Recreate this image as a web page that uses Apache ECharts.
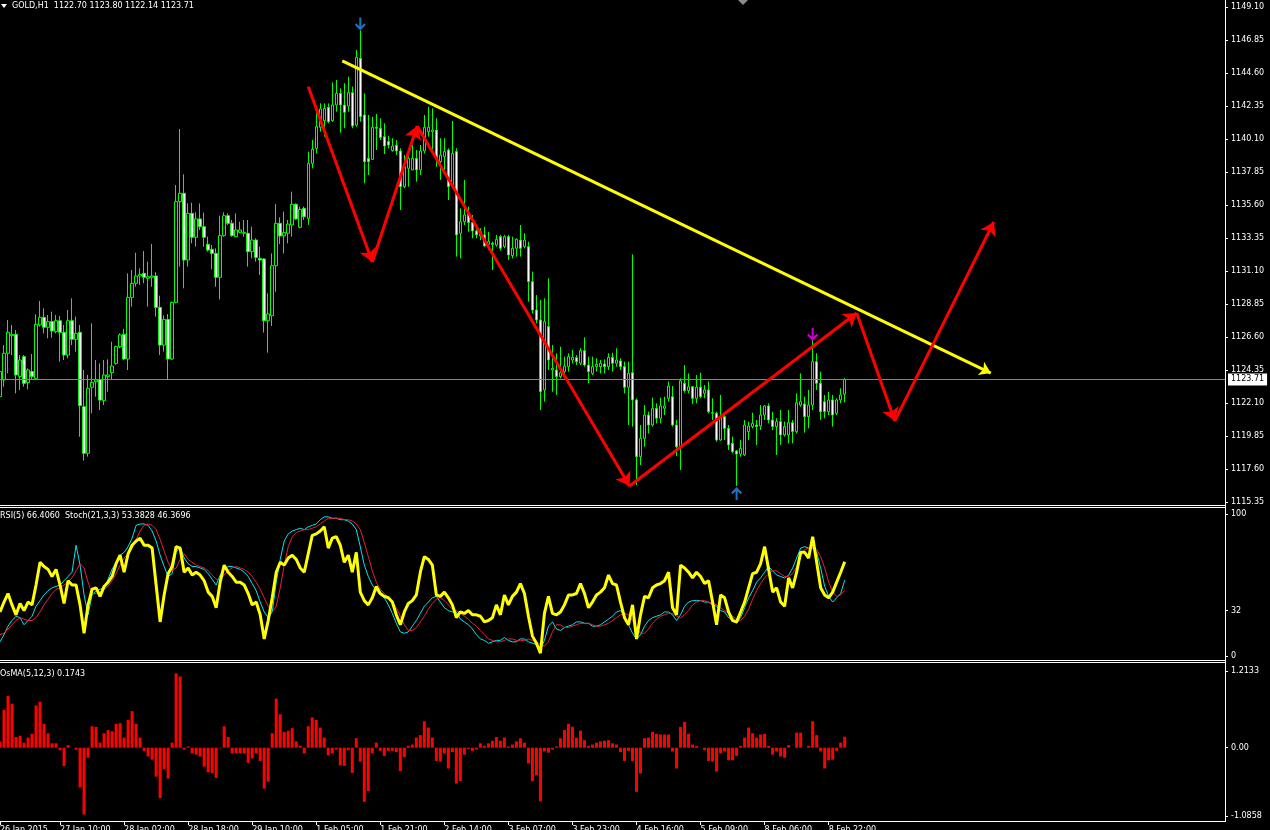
<!DOCTYPE html>
<html><head><meta charset="utf-8">
<script src="https://cdn.jsdelivr.net/npm/echarts@6/dist/echarts.min.js"></script>
<style>html,body{margin:0;padding:0;background:#000;}#c{width:1270px;height:830px;}</style>
</head><body><div id="c"></div>
<script>
const symbolName = 'GOLD,H1';
const open = [1122.53,1123.67,1125.49,1126.69,1126.78,1123.90,1125.26,1123.49,1124.24,1123.78,
1127.42,1127.94,1127.26,1127.65,1126.96,1127.71,1126.92,1125.37,1127.71,1126.44,
1126.92,1121.85,1118.67,1123.17,1123.55,1123.71,1122.26,1123.90,1124.17,1124.80,
1125.94,1126.78,1125.10,1129.30,1130.26,1130.76,1130.94,1130.60,1130.67,1130.76,
1128.62,1126.05,1127.80,1125.10,1128.96,1135.83,1136.40,1131.85,1135.03,1133.40,
1134.65,1134.12,1132.92,1132.58,1132.30,1130.67,1133.51,1134.87,1134.35,1133.44,
1133.74,1133.67,1133.67,1132.42,1133.21,1131.96,1131.92,1127.71,1128.05,1131.46,
1134.35,1133.49,1133.67,1134.24,1135.65,1134.08,1135.37,1134.69,1138.44,1139.46,
1140.90,1141.35,1142.26,1141.35,1142.42,1143.21,1142.42,1142.35,1143.26,1141.05,
1145.60,1141.74,1138.78,1138.71,1140.90,1140.83,1140.26,1139.92,1139.30,1139.67,
1139.28,1136.85,1138.10,1137.99,1138.78,1137.99,1139.28,1140.60,1140.60,1140.71,
1138.56,1138.90,1139.35,1136.96,1139.24,1133.67,1134.46,1135.03,1134.40,1133.83,
1133.49,1133.56,1132.92,1132.99,1132.87,1133.44,1132.76,1133.44,1132.15,1132.65,
1133.21,1132.76,1132.76,1130.37,1128.44,1127.76,1122.99,1127.31,1124.35,1124.35,
1123.90,1124.24,1124.58,1125.03,1125.19,1124.81,1125.67,1124.69,1124.12,1124.58,
1124.58,1124.76,1124.58,1125.21,1124.81,1124.97,1124.58,1123.17,1124.17,1122.31,
1118.44,1119.69,1121.28,1120.60,1121.74,1121.06,1121.74,1122.42,1122.53,1120.60,
1119.12,1123.44,1122.94,1123.21,1122.42,1123.17,1122.76,1122.99,1121.40,1121.40,
1119.58,1121.17,1120.37,1119.35,1118.83,1118.62,1118.56,1120.15,1120.49,1120.60,
1120.53,1121.28,1121.90,1120.94,1120.49,1120.83,1119.92,1119.92,1120.76,1120.15,
1121.96,1122.03,1121.17,1121.96,1124.92,1123.44,1122.19,1121.51,1122.31,1121.40,
1122.31,1122.70];
const close = [1124.24,1125.49,1126.92,1126.78,1124.01,1125.03,1123.44,1124.35,1123.90,1127.46,
1127.94,1127.26,1127.65,1127.01,1127.71,1126.92,1125.37,1127.71,1126.44,1126.85,
1121.92,1118.67,1123.10,1123.51,1123.67,1122.30,1124.01,1124.01,1124.62,1125.94,
1126.74,1125.10,1129.30,1130.26,1130.76,1130.87,1130.67,1130.71,1130.76,1128.62,
1126.05,1127.80,1125.10,1128.96,1135.83,1136.40,1131.85,1135.03,1133.40,1134.65,
1134.12,1133.40,1132.53,1132.30,1130.67,1133.51,1134.87,1134.35,1133.51,1133.90,
1133.90,1133.74,1132.42,1133.21,1132.03,1131.85,1127.71,1128.17,1131.46,1134.35,
1133.49,1133.72,1134.30,1135.65,1134.65,1135.30,1134.80,1138.44,1139.40,1140.94,
1142.15,1142.19,1141.28,1142.42,1143.21,1142.42,1141.92,1143.26,1140.99,1145.67,
1141.62,1138.55,1138.55,1140.90,1140.83,1140.21,1139.62,1139.69,1139.62,1139.28,
1136.85,1138.21,1138.78,1138.78,1137.99,1139.28,1140.90,1140.90,1140.71,1138.78,
1139.01,1139.24,1136.85,1139.12,1133.56,1134.46,1134.92,1134.40,1133.83,1133.56,
1133.78,1132.81,1133.10,1132.92,1133.26,1132.65,1133.44,1132.19,1132.65,1133.26,
1132.65,1133.21,1130.37,1128.44,1127.76,1122.87,1127.65,1125.03,1124.46,1123.90,
1124.17,1124.62,1125.26,1125.21,1124.92,1125.67,1124.69,1124.24,1124.58,1124.74,
1124.81,1124.58,1125.21,1124.81,1125.03,1124.58,1123.17,1124.12,1122.31,1118.44,
1119.69,1121.28,1120.60,1121.74,1121.06,1121.90,1121.90,1123.26,1120.60,1119.12,
1123.62,1122.94,1123.21,1122.42,1123.17,1122.53,1122.99,1121.51,1121.44,1119.58,
1121.17,1120.37,1119.24,1118.78,1118.62,1119.01,1120.60,1120.53,1120.71,1120.49,
1121.28,1121.90,1120.94,1120.49,1120.83,1119.92,1120.49,1120.76,1120.15,1122.12,
1122.19,1121.17,1121.96,1124.92,1123.44,1121.51,1121.51,1122.31,1121.28,1122.31,
1122.65,1123.71];
const low = [1121.17,1123.21,1124.12,1125.37,1122.76,1122.99,1123.21,1123.03,1123.67,1123.67,
1127.30,1126.85,1126.51,1126.55,1126.85,1124.92,1125.03,1125.15,1126.05,1125.60,
1119.80,1118.17,1118.44,1121.40,1122.53,1121.62,1121.96,1122.87,1123.67,1124.70,
1125.83,1125.03,1124.35,1128.67,1130.03,1130.15,1130.26,1128.67,1130.03,1127.99,
1125.37,1125.60,1123.67,1125.03,1128.90,1131.40,1129.92,1131.40,1132.99,1132.76,
1133.90,1132.76,1132.42,1131.21,1130.03,1129.17,1133.44,1134.24,1133.44,1133.40,
1133.67,1133.44,1131.40,1131.96,1131.74,1130.83,1126.90,1125.53,1127.35,1129.69,
1132.94,1132.30,1132.99,1133.44,1134.58,1134.01,1134.58,1134.24,1138.10,1139.12,
1140.60,1140.26,1141.17,1141.28,1141.96,1140.53,1140.83,1141.96,1140.83,1140.94,
1141.28,1137.08,1137.65,1138.67,1139.35,1140.03,1139.08,1139.46,1139.24,1139.01,
1135.26,1136.74,1136.85,1137.99,1137.19,1137.65,1139.12,1140.26,1139.35,1138.21,
1137.31,1137.65,1135.94,1136.74,1132.08,1131.96,1134.24,1133.78,1133.33,1133.33,
1133.21,1132.76,1132.53,1131.17,1132.76,1132.49,1132.65,1131.85,1131.96,1132.08,
1132.08,1132.65,1129.01,1128.21,1127.53,1121.62,1122.19,1124.35,1122.87,1122.65,
1123.78,1123.90,1124.24,1124.81,1124.69,1124.69,1124.58,1123.44,1124.01,1124.24,
1124.12,1124.12,1124.35,1124.24,1124.58,1124.35,1122.76,1120.60,1120.49,1116.51,
1117.87,1119.12,1120.03,1120.49,1120.71,1120.71,1121.28,1122.19,1120.49,1118.49,
1117.53,1122.81,1122.76,1122.03,1122.08,1122.42,1122.42,1121.40,1120.94,1119.46,
1119.53,1119.58,1118.90,1118.67,1116.45,1118.44,1118.49,1119.58,1120.37,1119.24,
1120.26,1120.94,1120.71,1120.26,1118.56,1119.24,1119.81,1119.35,1119.35,1120.03,
1121.85,1120.08,1120.37,1121.62,1122.99,1120.94,1121.06,1121.28,1120.49,1121.28,
1122.08,1122.14];
const high = [1125.03,1126.05,1127.76,1127.42,1127.08,1125.37,1125.37,1124.46,1125.44,1128.15,
1129.06,1128.55,1128.10,1128.33,1128.10,1128.03,1127.42,1128.44,1129.24,1127.99,
1127.42,1124.35,1124.01,1127.53,1125.03,1124.80,1125.03,1125.08,1126.28,1126.00,
1126.85,1127.17,1130.94,1131.17,1132.35,1131.28,1132.46,1131.74,1132.94,1131.01,
1129.42,1128.08,1128.17,1129.01,1136.96,1140.78,1137.69,1135.71,1135.76,1135.10,
1135.71,1135.08,1133.44,1132.87,1132.65,1134.87,1135.10,1135.03,1134.58,1135.03,
1134.46,1134.58,1134.58,1134.12,1133.33,1132.76,1131.96,1129.58,1132.30,1135.67,
1134.76,1135.15,1134.58,1136.51,1135.71,1135.49,1135.49,1139.24,1140.03,1142.03,
1142.53,1142.53,1142.53,1143.96,1144.12,1143.55,1143.90,1144.35,1143.67,1146.17,
1147.50,1143.21,1141.74,1141.62,1141.80,1141.51,1141.17,1140.33,1140.15,1140.03,
1139.46,1139.01,1139.01,1139.69,1139.35,1139.69,1141.74,1142.30,1142.19,1141.51,
1140.15,1140.15,1139.46,1141.33,1139.46,1135.37,1137.31,1135.49,1134.92,1134.24,
1134.01,1134.12,1133.78,1133.10,1133.56,1133.56,1133.56,1133.56,1133.44,1133.33,
1134.24,1133.67,1133.10,1131.06,1129.46,1129.12,1129.24,1130.60,1126.06,1125.49,
1125.94,1125.26,1125.49,1125.71,1125.37,1125.83,1126.58,1125.26,1125.26,1125.15,
1125.03,1125.08,1125.49,1125.53,1125.83,1125.15,1124.92,1124.92,1132.24,1122.42,
1120.60,1121.96,1121.51,1122.46,1122.08,1122.46,1122.53,1123.56,1123.26,1120.94,
1123.78,1124.69,1124.12,1123.26,1124.01,1124.17,1123.33,1123.56,1122.42,1121.51,
1122.65,1121.40,1120.60,1119.81,1118.90,1119.58,1120.94,1120.83,1121.44,1120.94,
1121.96,1121.96,1122.08,1121.51,1121.06,1121.62,1120.83,1121.62,1120.94,1122.76,
1124.12,1122.53,1122.99,1126.40,1125.49,1124.24,1122.65,1122.87,1122.65,1122.42,
1123.10,1123.80];
const rsi = [31,38,44,36,29,37,32,38,36,50,
66,63,61,56,61,50,37,53,50,50,
36,16,36,47,48,42,49,52,56,65,
71,59,72,78,81,83,78,78,76,50,
24,43,58,63,77,76,59,62,57,59,
57,53,45,42,34,52,64,59,56,52,
52,50,44,36,38,29,12,25,41,59,
66,64,69,71,68,62,59,72,85,86,
88,91,76,83,84,78,66,71,59,73,
45,39,36,41,49,44,42,41,38,29,
22,31,37,39,43,59,70,68,64,43,
42,45,41,36,27,31,30,32,29,29,
28,24,25,27,36,29,43,36,42,45,
51,44,28,14,9,2,30,42,30,29,
31,36,43,43,44,51,44,34,38,43,
45,48,57,51,50,38,27,22,36,12,
29,42,41,48,50,51,53,59,34,29,
64,62,59,55,59,56,51,53,38,22,
43,41,31,25,24,31,38,48,58,59,
65,77,61,45,48,38,35,55,48,59,
73,73,69,84,66,48,43,41,45,52,
59,66.4060];
const stochMain = [10,15,21,25,28,27,22,25,28,35,
39,43,46,48,49,50,53,56,59,78,
64,43,29,43,46,47,48,54,61,66,
71,73,77,83,92,93,93,92,88,81,
71,63,56,58,73,77,69,65,63,63,
62,61,58,54,50,57,61,63,63,62,
61,59,56,51,46,38,31,27,31,52,
68,81,86,88,89,90,89,91,92,93,
96,98,98,97,97,96,96,95,93,89,
77,64,56,50,46,43,41,36,30,23,
17,16,17,21,25,30,35,38,41,42,
38,34,32,31,31,26,24,22,19,15,
12,11,9,10,11,11,13,11,10,10,
12,12,10,9,8,5,11,21,24,19,
18,20,21,22,24,24,23,23,21,21,
22,24,26,28,31,32,28,22,16,12,
15,21,25,27,28,29,31,31,29,25,
29,35,38,39,39,39,38,38,36,35,
32,31,27,25,23,27,34,41,46,52,
55,59,63,60,57,56,55,57,62,69,
76,77,76,76,73,62,49,42,38,41,
44,53.3828];
const stochSignal = [15,16,19,22,25,27,26,25,25,27,
31,36,40,44,47,48,50,52,55,60,
65,62,52,44,44,45,47,49,53,58,
64,69,72,76,82,88,92,93,92,89,
82,74,66,60,62,68,72,68,66,64,
63,62,60,57,54,54,57,60,62,63,
62,61,59,56,52,47,41,35,31,35,
48,64,77,84,87,88,89,89,90,91,
93,95,97,97,97,97,96,96,95,93,
89,80,70,60,52,47,44,41,38,34,
28,22,18,18,20,24,28,33,37,40,
41,39,36,33,32,30,28,26,23,21,
18,15,12,11,10,10,11,12,12,11,
11,11,12,11,10,8,7,10,17,22,
22,20,20,21,22,23,23,23,22,21,
21,22,23,25,27,29,30,29,25,20,
16,16,19,23,26,28,29,30,30,28,
27,29,32,36,38,39,39,38,37,36,
34,32,30,28,26,25,28,33,40,46,
51,55,58,60,60,58,56,56,58,63,
70,75,76,76,75,70,62,52,45,42,
43,46.3696];
const osma = [0.1,0.6,0.82,0.7,0.17,0.19,0.08,0.16,0.22,0.67,
0.73,0.38,0.23,0.07,0.07,-0.04,-0.29,0.04,0,-0.03,
-0.63,-1.06,-0.16,0.34,0.33,0.08,0.23,0.28,0.26,0.38,
0.39,0.16,0.44,0.58,0.38,0.16,-0.05,-0.14,-0.19,-0.46,
-0.8,-0.34,-0.49,0.08,1.18,1.13,-0.03,0.02,-0.09,-0.11,
-0.14,-0.3,-0.39,-0.4,-0.48,-0.01,0.34,0.17,-0.09,-0.09,
-0.09,-0.09,-0.24,-0.17,-0.09,-0.21,-0.65,-0.54,0.23,0.78,
0.53,0.25,0.27,0.31,0.1,0.03,-0.09,0.34,0.48,0.44,
0.32,0.16,-0.12,-0.09,-0.03,-0.28,-0.29,-0.04,-0.4,0.15,
-0.22,-0.86,-0.69,-0.09,0.08,-0.05,-0.13,-0.05,-0.05,-0.07,
-0.37,-0.15,0.03,0.05,0.16,0.2,0.42,0.32,0.16,-0.21,
-0.22,-0.09,-0.33,-0.07,-0.57,-0.53,-0.11,-0.02,-0.05,-0.03,
0.07,0.03,0.07,0.11,0.17,0.11,0.16,0.02,0.05,0.1,
0.15,0.08,-0.25,-0.53,-0.44,-0.85,-0.06,-0.08,-0.03,0.02,
0.15,0.28,0.38,0.33,0.16,0.27,0.12,0.03,0.05,0.08,
0.1,0.11,0.12,0.07,0.05,-0.07,-0.21,-0.05,-0.21,-0.7,
-0.41,0.15,0.16,0.25,0.22,0.21,0.21,0.21,-0.06,-0.33,
0.33,0.41,0.22,0.05,0.03,0,-0.04,-0.21,-0.22,-0.38,
-0.09,-0.06,-0.2,-0.2,-0.13,0.03,0.16,0.32,0.23,0.16,
0.21,0.22,0.03,-0.11,-0.06,-0.14,-0.16,0.04,0,0.24,
0.24,0,0.03,0.42,0.2,-0.06,-0.33,-0.2,-0.19,-0.05,
0.08,0.1743];
const priceTicks = [1115.35,1117.60,1119.85,1122.10,1124.35,1126.60,1128.85,1131.10,1133.35,1135.60,1137.85,1140.10,1142.35,1144.60,1146.85,1149.10];
const rsiTicks = [0,32,100];
const osmaTicks = [-1.0858,0,1.2133];
const xTickBars = [0,15,31,47,63,79,95,111,127,143,159,175,191,207];
const xTickLabels = ['26 Jan 2015','27 Jan 10:00','28 Jan 02:00','28 Jan 18:00','29 Jan 10:00','1 Feb 05:00','1 Feb 21:00','2 Feb 14:00','3 Feb 07:00','3 Feb 23:00','4 Feb 16:00','5 Feb 09:00','8 Feb 06:00','8 Feb 22:00'];
const zigzag = [[77,1143.67],[93,1131.71],[104.2,1140.99],[157.25,1116.44],[214,1128.24],[223.5,1120.87],[248.25,1134.44]];
const trendLine = [[85.5,1145.42],[247.5,1124.14]];
const fractalDown = [[90,1147.94]];
const fractalUp = [[184,1115.93]];
const signalDown = [[203,1126.77]];

const NCAT = 307;
const FONT = 'DejaVu Sans';
const cats = Array.from({length:NCAT},(_,i)=>String(i));
const tickMap = {}; xTickBars.forEach((b,i)=>tickMap[b]=xTickLabels[i]);
const isTick = (i)=> tickMap[i] !== undefined;
const last = open.length-1;
const DOWN = 'path://M4.5,0L6.5,0L6.5,8.5L9.5,5.5L11,7L5.5,12.5L0,7L1.5,5.5L4.5,8.5Z';
const UP = 'path://M4.5,12.5L6.5,12.5L6.5,4L9.5,7L11,5.5L5.5,0L0,5.5L1.5,7L4.5,4Z';

const chart = echarts.init(document.getElementById('c'), null, {renderer:'canvas'});
const axisLbl = {color:'#fff', fontSize:8, fontFamily:FONT, margin:6, padding:[3,0,0,0]};
const yBase = (gi, min, max, vals, fmt) => ({
  gridIndex:gi, type:'value', position:'right', min, max, scale:true,
  axisLine:{show:false, onZero:false}, splitLine:{show:false},
  axisTick:{show:true, length:3, customValues:vals, lineStyle:{color:'#fff'}},
  axisLabel:Object.assign({customValues:vals, formatter:fmt}, axisLbl)
});
const segs = [];
for (let i=0;i<zigzag.length-1;i++) segs.push({coords:[zigzag[i], zigzag[i+1]]});

chart.setOption({
  backgroundColor:'#000',
  animation:false,
  grid:[
    {left:0, right:45, top:0, height:505, outerBoundsMode:'none', containLabel:false},
    {left:0, right:45, top:508, height:153, outerBoundsMode:'none', containLabel:false},
    {left:0, right:45, top:663, height:158, outerBoundsMode:'none', containLabel:false}
  ],
  xAxis:[
    {gridIndex:0, type:'category', data:cats, boundaryGap:false, show:false},
    {gridIndex:0, type:'value', min:0, max:NCAT-1, show:false, axisLine:{onZero:false}},
    {gridIndex:1, type:'category', data:cats, boundaryGap:false, show:false},
    {gridIndex:2, type:'category', data:cats, boundaryGap:false,
      axisLine:{show:true, onZero:false, lineStyle:{color:'#fff', width:1}},
      axisTick:{show:true, length:4, interval:(i)=>isTick(i), lineStyle:{color:'#fff'}},
      axisLabel:{interval:(i)=>isTick(i), formatter:(v,i)=>tickMap[i]||'', align:'left', color:'#fff', fontSize:8, fontFamily:FONT, margin:5},
      splitLine:{show:false}}
  ],
  yAxis:[
    yBase(0, 1115.146, 1149.577, priceTicks, v=>v.toFixed(2)),
    yBase(1, -3.52, 104.23, rsiTicks, v=>String(v)),
    yBase(2, -1.1635, 1.3444, osmaTicks, v=> v===0 ? '0.00' : v.toFixed(4))
  ],
  series:[
    {type:'candlestick', xAxisIndex:0, yAxisIndex:0, barWidth:3,
      data: open.map((o,i)=>[o, close[i], low[i], high[i]]),
      itemStyle:{color:'#000', color0:'#fff', borderColor:'#00ff00', borderColor0:'#00ff00', borderWidth:1},
      markLine:{silent:true, symbol:['none','none'], animation:false,
        data:[{yAxis:close[last]}],
        lineStyle:{color:'#778899', width:1, type:'solid'},
        label:{show:true, position:'end', distance:3, formatter:close[last].toFixed(2), backgroundColor:'#fff', color:'#000', padding:[3,3,1,3], fontSize:8, fontFamily:FONT}}
    },
    {type:'lines', coordinateSystem:'cartesian2d', xAxisIndex:1, yAxisIndex:0, z:5,
      symbol:['none','arrow'], symbolSize:11,
      lineStyle:{color:'#ffff00', width:3, opacity:1, curveness:0},
      data:[{coords:trendLine}]},
    {type:'lines', coordinateSystem:'cartesian2d', xAxisIndex:1, yAxisIndex:0, z:6,
      symbol:['none','arrow'], symbolSize:13,
      lineStyle:{color:'#ff0000', width:3, opacity:1, curveness:0},
      data:segs},
    {type:'scatter', xAxisIndex:1, yAxisIndex:0, z:7, symbol:DOWN, symbolSize:[11,13], itemStyle:{color:'#1e90ff'}, data:fractalDown},
    {type:'scatter', xAxisIndex:1, yAxisIndex:0, z:7, symbol:UP, symbolSize:[11,13], itemStyle:{color:'#1e90ff'}, data:fractalUp},
    {type:'scatter', xAxisIndex:1, yAxisIndex:0, z:7, symbol:DOWN, symbolSize:[11,13], itemStyle:{color:'#ff00ff'}, data:signalDown},
    {type:'line', xAxisIndex:2, yAxisIndex:1, data:stochMain, symbol:'none', lineStyle:{color:'#00e5ee', width:1}},
    {type:'line', xAxisIndex:2, yAxisIndex:1, data:stochSignal, symbol:'none', lineStyle:{color:'#e8203a', width:1}},
    {type:'line', xAxisIndex:2, yAxisIndex:1, data:rsi, symbol:'none', lineStyle:{color:'#ffff00', width:3}},
    {type:'bar', xAxisIndex:3, yAxisIndex:2, data:osma, barWidth:3, itemStyle:{color:'#ff0000'}}
  ],
  graphic:[
    {type:'rect', shape:{x:0,y:505,width:1226,height:1}, style:{fill:'#fff'}, silent:true},
    {type:'rect', shape:{x:0,y:507,width:1226,height:1}, style:{fill:'#fff'}, silent:true},
    {type:'rect', shape:{x:0,y:660,width:1226,height:1}, style:{fill:'#fff'}, silent:true},
    {type:'rect', shape:{x:0,y:662,width:1226,height:1}, style:{fill:'#fff'}, silent:true},
    {type:'rect', shape:{x:1225,y:0,width:1,height:822}, style:{fill:'#fff'}, silent:true},
    {type:'polygon', shape:{points:[[1,4],[7,4],[4,8]]}, style:{fill:'#fff'}, silent:true},
    {type:'polygon', shape:{points:[[738,0],[748,0],[743,5]]}, style:{fill:'#8c8c8c'}, silent:true},
    {type:'text', x:12, y:2, silent:true, style:{text:symbolName+'  '+[open[last],high[last],low[last],close[last]].map(v=>v.toFixed(2)).join(' '), fill:'#fff', font:'8px "'+FONT+'"'}},
    {type:'text', x:0, y:512, silent:true, style:{text:'RSI(5) '+rsi[last].toFixed(4)+'  Stoch(21,3,3) '+stochMain[last].toFixed(4)+' '+stochSignal[last].toFixed(4), fill:'#fff', font:'8px "'+FONT+'"'}},
    {type:'text', x:0, y:670, silent:true, style:{text:'OsMA(5,12,3) '+osma[last].toFixed(4), fill:'#fff', font:'8px "'+FONT+'"'}}
  ]
});
</script></body></html>
